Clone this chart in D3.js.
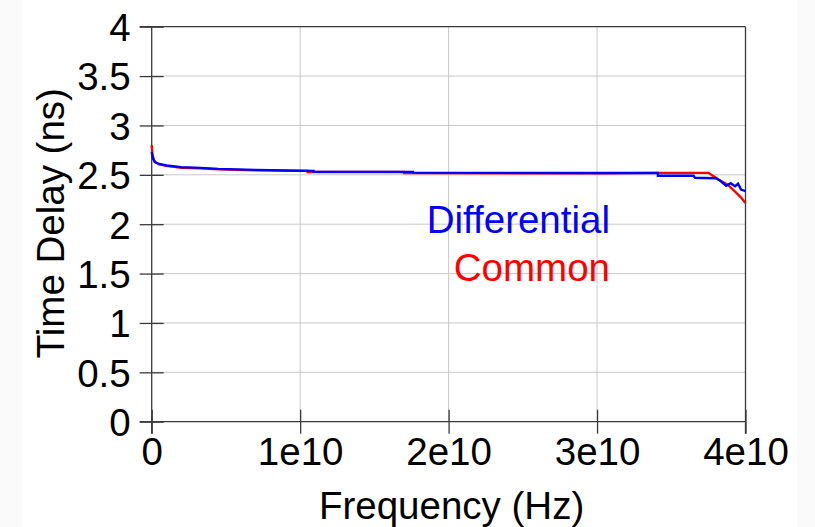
<!DOCTYPE html>
<html><head><meta charset="utf-8">
<script src="https://cdn.jsdelivr.net/npm/d3@7"></script>
<style>
html,body{margin:0;padding:0;background:#fff;}
svg{display:block;font-family:"Liberation Sans",Arial,sans-serif;}
</style></head>
<body>
<svg id="chart" width="815" height="527"></svg>
<script>
// ---- data ----
const xTicks = [0, 1e10, 2e10, 3e10, 4e10];
const xTickLabels = ["0", "1e10", "2e10", "3e10", "4e10"];
const yTicks = [0, 0.5, 1, 1.5, 2, 2.5, 3, 3.5, 4];
const yTickLabels = ["0", "0.5", "1", "1.5", "2", "2.5", "3", "3.5", "4"];

const diffFreq = [0, 1e8, 2.2e8, 5e8, 1e9, 2e9, 3.3e9, 4.5e9, 7e9, 1.0e10, 1.09e10, 1.09e10, 1.76e10, 1.76e10, 3.0e10, 3.41e10, 3.41e10, 3.65e10, 3.66e10, 3.72e10, 3.8e10, 3.83e10, 3.87e10, 3.9e10, 3.93e10, 3.95e10, 3.97e10, 4.0e10];
const diffDelay = [2.73, 2.66, 2.63, 2.61, 2.595, 2.578, 2.57, 2.56, 2.55, 2.542, 2.54, 2.53, 2.53, 2.522, 2.518, 2.518, 2.49, 2.49, 2.47, 2.468, 2.465, 2.44, 2.39, 2.415, 2.385, 2.41, 2.35, 2.335];

const commFreq = [0, 5e7, 2e8, 5e8, 1e9, 2e9, 3.3e9, 4.5e9, 7e9, 1.0e10, 1.05e10, 1.05e10, 1.70e10, 1.70e10, 3.0e10, 3.41e10, 3.75e10, 3.78e10, 3.82e10, 3.88e10, 3.93e10, 3.97e10, 4.0e10];
const commDelay = [2.80, 2.70, 2.63, 2.605, 2.59, 2.572, 2.565, 2.555, 2.545, 2.54, 2.54, 2.528, 2.528, 2.518, 2.515, 2.52, 2.52, 2.49, 2.45, 2.40, 2.33, 2.27, 2.215];

const seriesNames = ["Differential", "Common"];
const seriesColors = ["#0000ff", "#ff0000"];

// ---- layout ----
(function () {
const svg = d3.select("#chart");
const W = 815, H = 527;
const pL = 151.7, pR = 745.5, pT = 26.7, pB = 421.7;
const FS = 38.5;

svg.append("rect").attr("width", W).attr("height", H).attr("fill", "#fafafa");
svg.append("rect").attr("x", 22).attr("width", 775).attr("height", H).attr("fill", "#ffffff");

const x = d3.scaleLinear().domain([0, 4e10]).range([pL, pR]);
const y = d3.scaleLinear().domain([0, 4]).range([pB, pT]);

// grid
const grid = svg.append("g");
grid.selectAll("line.gy").data(yTicks.filter(v => v > 0 && v < 4)).enter().append("line")
  .attr("x1", pL).attr("x2", pR).attr("y1", d => y(d)).attr("y2", d => y(d))
  .attr("stroke", "#c8c8c8").attr("stroke-width", 1);
grid.selectAll("line.gx").data(xTicks.filter(v => v > 0 && v < 4e10)).enter().append("line")
  .attr("x1", d => x(d)).attr("x2", d => x(d)).attr("y1", pT).attr("y2", pB)
  .attr("stroke", "#c8c8c8").attr("stroke-width", 1);

// frame top & right
const axisColor = "#3a3a3a";
svg.append("line").attr("x1", pL - 12).attr("x2", pR).attr("y1", y(4)).attr("y2", y(4)).attr("stroke", axisColor).attr("stroke-width", 1.3);
svg.append("line").attr("x1", x(4e10)).attr("x2", x(4e10)).attr("y1", pT).attr("y2", pB + 12).attr("stroke", axisColor).attr("stroke-width", 1.3);

// axes via d3
const xAxis = d3.axisBottom(x).tickValues(xTicks).tickFormat((d, i) => xTickLabels[i]).tickSizeInner(12).tickSizeOuter(0).tickPadding(6);
const gx = svg.append("g").attr("transform", `translate(0,${pB})`).call(xAxis);
gx.select(".domain").attr("stroke", axisColor).attr("stroke-width", 1.3).attr("d", `M${pL - 12},0H${pR}`);
gx.selectAll(".tick line").attr("stroke", axisColor).attr("stroke-width", 1.3).attr("y1", -12).attr("y2", 12);
gx.selectAll(".tick text").attr("fill", "#000").attr("font-size", FS).attr("font-family", "Liberation Sans, Arial, sans-serif").attr("dy", "0.71em").attr("y", 16);

const yAxis = d3.axisLeft(y).tickValues(yTicks).tickFormat((d, i) => yTickLabels[i]).tickSizeInner(12).tickSizeOuter(0).tickPadding(9);
const gy = svg.append("g").attr("transform", `translate(${pL},0)`).call(yAxis);
gy.select(".domain").attr("stroke", axisColor).attr("stroke-width", 1.3).attr("d", `M0,${pT}V${pB + 12}`);
gy.selectAll(".tick line").attr("stroke", axisColor).attr("stroke-width", 1.3).attr("x1", -12).attr("x2", 12);
gy.selectAll(".tick text").attr("fill", "#000").attr("font-size", FS).attr("font-family", "Liberation Sans, Arial, sans-serif").attr("x", -21).attr("dy", "0.36em");

// lines
const line = d3.line().x(d => x(d[0])).y(d => y(d[1]));
const commData = commFreq.map((f, i) => [f, commDelay[i]]);
const diffData = diffFreq.map((f, i) => [f, diffDelay[i]]);
svg.append("path").datum(commData).attr("d", line).attr("fill", "none").attr("stroke", seriesColors[1]).attr("stroke-width", 2.4);
svg.append("path").datum(diffData).attr("d", line).attr("fill", "none").attr("stroke", seriesColors[0]).attr("stroke-width", 2.4);

// legend labels
svg.append("text").attr("x", 610).attr("y", 233).attr("text-anchor", "end").attr("font-size", FS).attr("fill", seriesColors[0]).text(seriesNames[0]);
svg.append("text").attr("x", 610).attr("y", 281).attr("text-anchor", "end").attr("font-size", FS).attr("fill", seriesColors[1]).text(seriesNames[1]);

// axis titles
svg.append("text").attr("x", (pL + pR) / 2 + 3).attr("y", 519).attr("text-anchor", "middle").attr("font-size", FS).attr("fill", "#000").text("Frequency (Hz)");
svg.append("text").attr("transform", `translate(64,${(pT + pB) / 2 - 1}) rotate(-90)`).attr("text-anchor", "middle").attr("font-size", FS).attr("fill", "#000").text("Time Delay (ns)");
})();
</script>
</body></html>
